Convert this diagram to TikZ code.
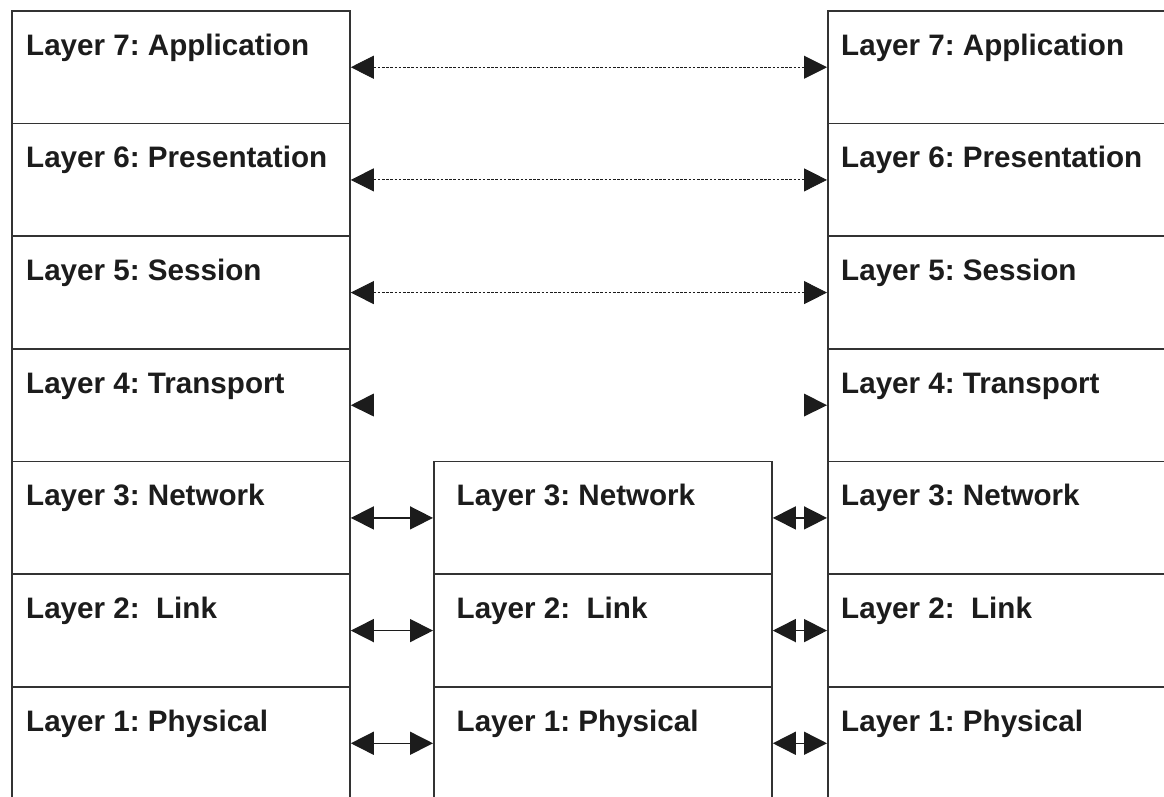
\documentclass[tikz,border=0pt]{standalone}
\usepackage{fontspec}
\setmainfont{Liberation Sans}
\usetikzlibrary{arrows.meta,calc}
\definecolor{linegray}{HTML}{333333}
\definecolor{inkblack}{HTML}{1C1C1C}
\frenchspacing
\begin{document}
\begin{tikzpicture}[x=1pt,y=-1pt,
  layerbox/.style={draw=linegray, line width=1.8pt, minimum width=#1,
    minimum height=112.67pt, inner sep=0pt, anchor=north west},
  layertext/.style={anchor=base west, inner sep=0pt, text=inkblack,
    font=\bfseries\fontsize{29.6}{34}\selectfont},
  peer/.style={{Triangle[length=23pt,width=23pt]}-{Triangle[length=23pt,width=23pt]},
    draw=inkblack, line width=0.9pt, dash pattern=on 2.6pt off 1.6pt},
  hop/.style={{Triangle[length=23pt,width=23pt]}-{Triangle[length=23pt,width=23pt]},
    draw=inkblack, line width=1.5pt},
]
\useasboundingbox (0,0) rectangle (1164,796);
\clip (0,0) rectangle (1164,796);
\fill[white] (0,0) rectangle (1164,796);

% end-system stacks (left A, right B), layers 7..1
\foreach \n/\t in {7/Application,6/Presentation,5/Session,4/Transport,3/Network,2/{\ Link},1/Physical}{
  \pgfmathsetmacro{\top}{10+(7-\n)*112.67}
  \node[layerbox=338pt] (A\n) at (11,\top) {};
  \node[layerbox=337pt] (B\n) at (827,\top) {};
  \node[layertext] (A\n t) at ($(A\n.north west)+(15,45.3)$) {Layer \n: \t};
  \node[layertext] (B\n t) at ($(B\n.north west)+(14,45.3)$) {Layer \n: \t};
}

% intermediate relay stack, layers 3..1
\foreach \n/\t in {3/Network,2/{\ Link},1/Physical}{
  \pgfmathsetmacro{\top}{10+(7-\n)*112.67}
  \node[layerbox=338pt] (M\n) at (433,\top) {};
  \node[layertext] (M\n t) at ($(M\n.north west)+(23.5,45.3)$) {Layer \n: \t};
}

% peer-to-peer links for the upper layers
\foreach \n in {7,6,5}{
  \draw[peer] (A\n.east) -- (B\n.west);
}

% transport layer: end points only
\coordinate (T4a) at ($(A4.east)+(23,0)$);
\coordinate (T4b) at ($(B4.west)+(-23,0)$);
\fill[inkblack] (A4.east) -- (T4a |- 0,393.5) -- (T4a |- 0,416.5) -- cycle;
\fill[inkblack] (B4.west) -- (T4b |- 0,393.5) -- (T4b |- 0,416.5) -- cycle;

% hop-by-hop links through the relay
\foreach \n in {3,2,1}{
  \draw[hop] (A\n.east) -- (M\n.west);
  \draw[hop] (M\n.east) -- (B\n.west);
}
\end{tikzpicture}
\end{document}
